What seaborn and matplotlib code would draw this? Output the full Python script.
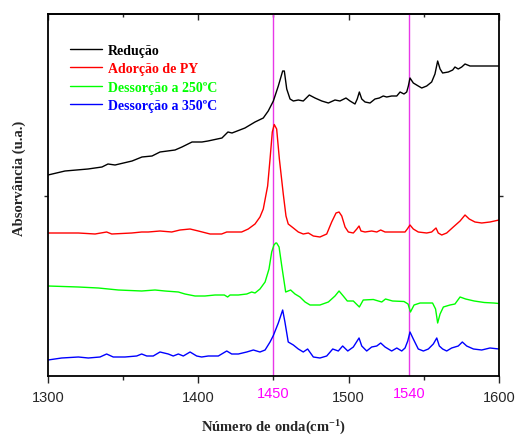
import matplotlib
matplotlib.use("Agg")
import matplotlib.pyplot as plt
import seaborn as sns
import pandas as pd

# ---- data (wavenumber cm-1, absorbance u.a.) ----
wn_red = [1300.0, 1311.3, 1326.6, 1335.9, 1339.9, 1344.6, 1355.9, 1362.5, 1369.2, 1374.5,
          1384.5, 1389.1, 1395.8, 1402.4, 1406.4, 1415.7, 1419.7, 1422.4, 1431.0, 1437.7,
          1443.2, 1446.5, 1449.9, 1453.2, 1456.1, 1457.2, 1458.8, 1461.0, 1463.2, 1466.5,
          1469.8, 1473.8, 1477.6, 1482.1, 1486.5, 1490.9, 1494.2, 1498.2, 1500.9, 1504.2,
          1505.7, 1507.1, 1508.7, 1510.9, 1514.2, 1517.5, 1520.4, 1523.0, 1525.3, 1528.6,
          1532.0, 1534.2, 1536.8, 1538.6, 1539.7, 1540.8, 1543.0, 1546.3, 1548.6, 1551.9,
          1555.2, 1557.4, 1559.2, 1560.8, 1562.5, 1566.3, 1569.2, 1570.7, 1572.9, 1575.2,
          1577.4, 1580.7, 1587.4, 1594.0, 1598.5, 1600.0]
ab_reducao = [2.01, 2.05, 2.07, 2.09, 2.12, 2.11, 2.15, 2.19, 2.20, 2.24,
              2.26, 2.29, 2.34, 2.34, 2.35, 2.38, 2.44, 2.43, 2.48, 2.54,
              2.58, 2.65, 2.75, 2.90, 3.05, 3.05, 2.87, 2.77, 2.75, 2.76,
              2.75, 2.81, 2.78, 2.75, 2.73, 2.76, 2.75, 2.78, 2.75, 2.72,
              2.77, 2.84, 2.77, 2.74, 2.73, 2.77, 2.78, 2.80, 2.79, 2.80,
              2.80, 2.84, 2.82, 2.84, 2.90, 2.98, 2.93, 2.90, 2.88, 2.90,
              2.94, 3.02, 3.15, 3.07, 3.03, 3.04, 3.06, 3.09, 3.07, 3.09,
              3.12, 3.10, 3.10, 3.10, 3.10, 3.10]

wn_py = [1300.0, 1309.1, 1320.2, 1331.3, 1339.0, 1342.4, 1355.7, 1362.3, 1366.7, 1374.5,
         1382.3, 1387.8, 1394.5, 1400.0, 1407.8, 1415.5, 1418.9, 1424.4, 1428.8, 1433.2,
         1437.7, 1441.0, 1443.2, 1446.1, 1447.7, 1449.2, 1450.5, 1452.1, 1453.9, 1456.5,
         1458.3, 1459.8, 1463.2, 1466.5, 1469.8, 1473.2, 1476.5, 1480.9, 1485.4, 1488.7,
         1491.6, 1493.6, 1495.4, 1497.6, 1499.8, 1503.1, 1505.4, 1506.9, 1508.2, 1510.9,
         1515.3, 1518.7, 1521.3, 1524.2, 1528.6, 1532.0, 1534.2, 1537.5, 1539.0, 1540.8,
         1543.0, 1546.3, 1551.9, 1555.2, 1558.1, 1559.6, 1561.9, 1565.2, 1569.6, 1574.1,
         1577.4, 1580.2, 1584.0, 1588.5, 1594.0, 1600.0]
ab_py = [1.43, 1.43, 1.43, 1.42, 1.44, 1.42, 1.43, 1.44, 1.44, 1.45,
         1.44, 1.46, 1.47, 1.45, 1.42, 1.42, 1.44, 1.44, 1.44, 1.47,
         1.52, 1.59, 1.67, 1.90, 2.17, 2.44, 2.515, 2.47, 2.17, 1.82,
         1.60, 1.52, 1.48, 1.44, 1.42, 1.43, 1.40, 1.39, 1.42, 1.54,
         1.63, 1.64, 1.60, 1.49, 1.44, 1.43, 1.47, 1.50, 1.45, 1.44,
         1.45, 1.44, 1.46, 1.44, 1.44, 1.44, 1.44, 1.44, 1.47, 1.51,
         1.47, 1.44, 1.43, 1.44, 1.48, 1.43, 1.41, 1.43, 1.49, 1.55,
         1.61, 1.57, 1.54, 1.53, 1.54, 1.56]

wn_250 = [1300.0, 1320.2, 1333.5, 1346.8, 1362.3, 1371.2, 1377.8, 1386.7, 1391.1, 1397.8,
          1404.4, 1411.1, 1417.3, 1419.5, 1421.1, 1426.6, 1432.2, 1435.5, 1437.7, 1441.0,
          1444.4, 1447.0, 1448.8, 1450.3, 1451.5, 1452.1, 1453.7, 1455.5, 1458.1, 1461.4,
          1464.3, 1467.6, 1471.0, 1474.3, 1480.9, 1486.5, 1490.9, 1493.6, 1496.4, 1499.1,
          1503.1, 1507.1, 1509.7, 1516.4, 1522.0, 1524.5, 1529.2, 1536.8, 1539.5, 1541.1,
          1543.5, 1547.5, 1550.8, 1555.8, 1557.8, 1559.2, 1560.8, 1563.0, 1567.4, 1570.7,
          1574.1, 1577.8, 1583.5, 1590.2, 1596.4, 1600.0]
ab_250 = [0.90, 0.89, 0.88, 0.86, 0.85, 0.86, 0.85, 0.84, 0.82, 0.80,
          0.80, 0.81, 0.81, 0.79, 0.81, 0.81, 0.82, 0.84, 0.83, 0.87,
          0.94, 1.07, 1.24, 1.31, 1.33, 1.33, 1.29, 1.10, 0.84, 0.86,
          0.82, 0.79, 0.74, 0.71, 0.71, 0.74, 0.80, 0.85, 0.80, 0.75,
          0.75, 0.69, 0.76, 0.765, 0.74, 0.77, 0.75, 0.745, 0.72, 0.64,
          0.71, 0.73, 0.73, 0.73, 0.67, 0.53, 0.62, 0.69, 0.71, 0.72,
          0.79, 0.77, 0.75, 0.735, 0.73, 0.725]

wn_350 = [1300.0, 1309.1, 1320.2, 1326.8, 1334.6, 1339.0, 1343.4, 1351.2, 1359.0, 1362.3,
          1365.7, 1370.0, 1374.5, 1380.0, 1383.3, 1386.7, 1390.0, 1394.5, 1398.9, 1402.2,
          1406.6, 1413.3, 1418.9, 1422.2, 1426.6, 1432.2, 1436.6, 1441.0, 1444.4, 1447.7,
          1449.9, 1453.2, 1456.1, 1457.6, 1459.8, 1463.2, 1466.5, 1469.8, 1472.7, 1476.5,
          1480.9, 1485.4, 1489.4, 1493.1, 1496.0, 1499.4, 1503.1, 1506.9, 1508.7, 1512.0,
          1515.3, 1518.7, 1521.3, 1524.2, 1528.6, 1532.0, 1535.3, 1537.5, 1539.3, 1540.8,
          1543.0, 1546.3, 1549.7, 1553.0, 1556.3, 1558.6, 1560.3, 1562.5, 1565.2, 1568.5,
          1572.9, 1575.6, 1578.5, 1583.0, 1588.5, 1594.0, 1600.0]
ab_350 = [0.16, 0.18, 0.19, 0.18, 0.19, 0.22, 0.19, 0.19, 0.20, 0.22,
          0.20, 0.20, 0.24, 0.22, 0.20, 0.22, 0.20, 0.24, 0.20, 0.19,
          0.20, 0.20, 0.25, 0.22, 0.22, 0.24, 0.26, 0.24, 0.26, 0.34,
          0.405, 0.53, 0.66, 0.54, 0.34, 0.31, 0.27, 0.24, 0.27, 0.19,
          0.18, 0.20, 0.27, 0.25, 0.30, 0.25, 0.29, 0.38, 0.30, 0.25,
          0.29, 0.30, 0.33, 0.29, 0.25, 0.28, 0.25, 0.28, 0.35, 0.44,
          0.37, 0.27, 0.25, 0.27, 0.32, 0.38, 0.30, 0.27, 0.25, 0.28,
          0.30, 0.34, 0.30, 0.27, 0.26, 0.28, 0.27]

series_names = ["Redução", "Adorção de PY", "Dessorção a 250ºC", "Dessorção a 350ºC"]
series_colors = ["#000000", "#FF0000", "#00FF00", "#0000FF"]
ref_lines = [1450, 1540]
x_ticks = [1300, 1400, 1500, 1600]
x_minor = [1350, 1450, 1550]

sns.set_style("ticks")
plt.rcParams["font.family"] = ["Liberation Sans", "DejaVu Sans"]
plt.rcParams["mathtext.fontset"] = "custom"
plt.rcParams["mathtext.rm"] = "Liberation Serif"
plt.rcParams["mathtext.bf"] = "Liberation Serif:bold"
plt.rcParams["mathtext.default"] = "bf"

fig = plt.figure(figsize=(5.15, 4.39), dpi=100)
ax = fig.add_axes([48 / 515, 62 / 439, 451 / 515, 362 / 439])

xs = [wn_red, wn_py, wn_250, wn_350]
ys = [ab_reducao, ab_py, ab_250, ab_350]
for name, col, x, y in zip(series_names, series_colors, xs, ys):
    df = pd.DataFrame({"wn": x, "ab": y})
    sns.lineplot(data=df, x="wn", y="ab", ax=ax, color=col, linewidth=1.0,
                 label=name, sort=False, estimator=None)

for xv in ref_lines:
    ax.axvline(xv, color="#E838E8", linewidth=1.0, zorder=0.5)

ax.set_xlim(1300, 1600)
ax.set_ylim(0, 3.62)
ax.set_xticks(x_ticks)
ax.set_xticks(x_minor, minor=True)
ax.set_xticklabels([str(t) for t in x_ticks])
ax.set_yticks([1.8])
ax.set_yticklabels([])
ax.tick_params(axis="x", which="major", direction="out", length=5, width=1,
               labelsize=10.5, pad=5)
ax.tick_params(axis="x", which="minor", direction="out", length=3, width=1)
ax.tick_params(axis="y", direction="out", length=3, width=1, right=True)
for s in ax.spines.values():
    s.set_linewidth(1.3)
    s.set_color("black")

top = ax.secondary_xaxis("top")
top.set_xticks(x_ticks)
top.set_xticks(x_minor, minor=True)
top.set_xticklabels([])
top.tick_params(axis="x", which="major", direction="in", length=4, width=1)
top.tick_params(axis="x", which="minor", direction="in", length=2.5, width=1)
top.spines["top"].set_linewidth(1.3)

for xv in ref_lines:
    ax.text(xv, -0.047, str(xv), transform=ax.get_xaxis_transform(),
            ha="center", va="center", color="#FF00FF", fontsize=10.5,
            family=["Liberation Sans", "DejaVu Sans"])

ax.set_xlabel(r"Número de onda(cm$^{\mathbf{-1}}$)", family="Liberation Serif",
              fontweight="bold", fontsize=10.5, labelpad=10)
ax.set_ylabel("Absorvância (u.a.)", family="Liberation Serif",
              fontweight="bold", fontsize=10.5)
ax.yaxis.set_label_coords(-0.049, 0.55)

leg = ax.legend(loc="upper left", bbox_to_anchor=(0.049, 0.9185), frameon=False,
                borderpad=0, borderaxespad=0, handlelength=2.3, handletextpad=0.4,
                labelspacing=0.4, labelcolor=series_colors,
                prop={"family": "Liberation Serif", "weight": "bold", "size": 10})

fig.savefig("out.png", dpi=100)
